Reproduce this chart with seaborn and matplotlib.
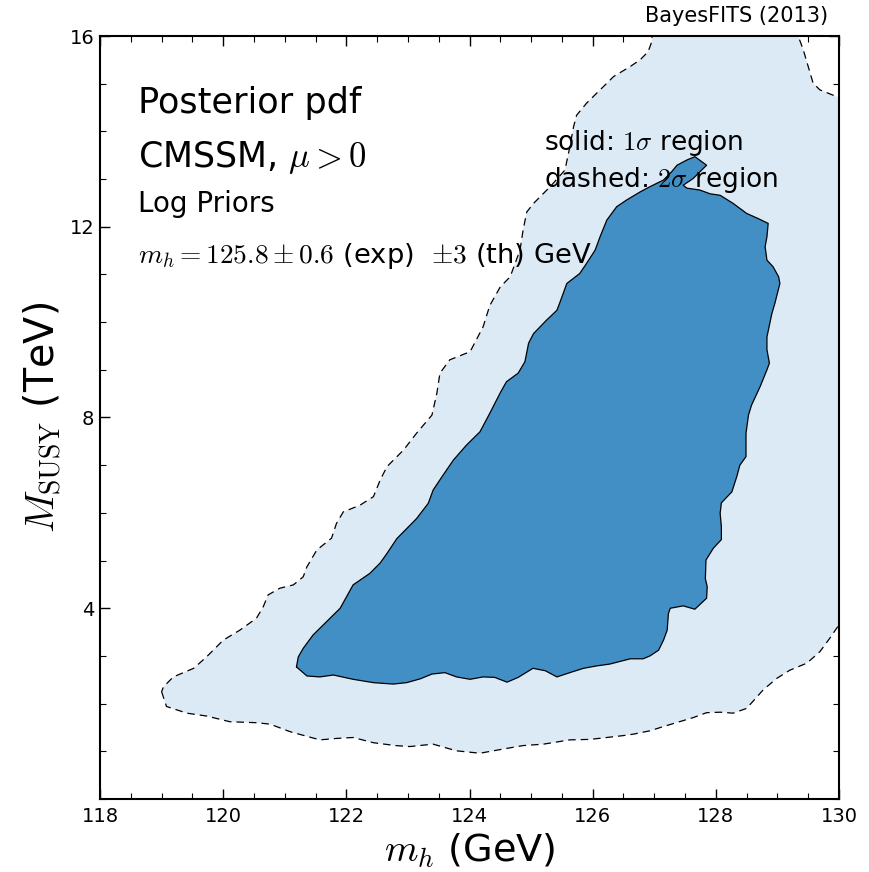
import matplotlib
matplotlib.use("Agg")
import matplotlib.pyplot as plt
import seaborn as sns
from matplotlib.ticker import MultipleLocator

# 2 sigma credible region (dashed outline), m_h in GeV, M_SUSY in TeV
mh_2sig = [119.00, 119.08, 119.41, 119.73, 120.11, 120.54, 120.76, 121.09, 121.57, 121.84,
           122.11, 122.44, 122.80, 123.03, 123.41, 123.79, 124.17, 124.60, 124.87, 125.20,
           125.63, 125.96, 126.50, 126.66, 126.93, 127.15, 127.64, 127.85, 128.07, 128.28,
           128.50, 128.77, 128.99, 129.20, 129.48, 129.69, 129.85, 129.94, 130.30, 130.30,
           129.96, 129.69, 129.58, 129.50, 129.42, 129.34, 129.30, 126.97, 126.96, 126.90,
           126.77, 126.61, 126.34, 126.12, 125.90, 125.74, 125.69, 125.63, 125.55, 125.31,
           125.04, 124.93, 124.87, 124.82, 124.66, 124.50, 124.33, 124.22, 124.01, 123.68,
           123.52, 123.47, 123.39, 123.14, 122.93, 122.66, 122.55, 122.44, 122.22, 121.95,
           121.84, 121.76, 121.52, 121.36, 121.30, 121.14, 120.92, 120.73, 120.65, 120.54,
           120.27, 120.00, 119.73, 119.52, 119.19, 119.03, 119.00]
ms_2sig = [2.25, 1.94, 1.80, 1.74, 1.62, 1.60, 1.57, 1.41, 1.24, 1.27,
           1.29, 1.18, 1.12, 1.10, 1.15, 1.01, 0.96, 1.06, 1.12, 1.15,
           1.24, 1.25, 1.33, 1.36, 1.43, 1.52, 1.71, 1.81, 1.82, 1.80,
           1.90, 2.29, 2.53, 2.70, 2.85, 3.09, 3.37, 3.54, 4.20, 14.60,
           14.73, 14.87, 15.01, 15.36, 15.71, 15.99, 16.40, 16.40, 15.88, 15.67,
           15.50, 15.36, 15.15, 14.87, 14.59, 14.34, 14.10, 13.68, 13.19, 12.84,
           12.49, 12.31, 11.93, 11.51, 10.95, 10.74, 10.35, 9.90, 9.38, 9.21,
           8.93, 8.51, 8.05, 7.67, 7.32, 6.97, 6.69, 6.34, 6.16, 6.02,
           5.78, 5.47, 5.22, 4.87, 4.66, 4.49, 4.42, 4.28, 4.03, 3.79,
           3.54, 3.33, 2.98, 2.74, 2.56, 2.35, 2.25]

# 1 sigma credible region (solid outline)
mh_1sig = [121.19, 121.36, 121.57, 121.79, 122.11, 122.44, 122.76, 122.98, 123.20, 123.39,
           123.60, 123.79, 124.01, 124.22, 124.41, 124.61, 124.79, 125.03, 125.23, 125.42,
           125.63, 125.85, 126.06, 126.28, 126.61, 126.82, 126.93, 127.07, 127.15, 127.21,
           127.23, 127.26, 127.47, 127.66, 127.85, 127.86, 127.83, 127.84, 127.96, 128.09,
           128.09, 128.07, 128.09, 128.26, 128.34, 128.39, 128.49, 128.49, 128.53, 128.58,
           128.72, 128.83, 128.87, 128.83, 128.83, 128.91, 128.96, 129.04, 129.02, 128.93,
           128.83, 128.80, 128.83, 128.85, 128.69, 128.50, 128.28, 128.07, 127.91, 127.74,
           127.53, 127.47, 127.63, 127.85, 127.66, 127.53, 127.37, 127.28, 127.15, 126.93,
           126.77, 126.55, 126.39, 126.23, 126.12, 126.04, 125.90, 125.79, 125.58, 125.47,
           125.42, 125.25, 125.04, 124.96, 124.90, 124.79, 124.60, 124.50, 124.33, 124.17,
           123.95, 123.74, 123.57, 123.41, 123.33, 123.14, 122.82, 122.66, 122.55, 122.38,
           122.11, 121.90, 121.68, 121.46, 121.30, 121.22, 121.19]
ms_1sig = [2.77, 2.58, 2.56, 2.60, 2.51, 2.44, 2.41, 2.44, 2.52, 2.62,
           2.65, 2.56, 2.51, 2.56, 2.55, 2.45, 2.55, 2.74, 2.69, 2.56,
           2.65, 2.74, 2.79, 2.83, 2.94, 2.94, 3.00, 3.12, 3.33, 3.54,
           3.89, 4.00, 4.05, 3.98, 4.21, 4.45, 4.62, 5.01, 5.26, 5.44,
           5.71, 5.99, 6.21, 6.44, 6.76, 7.00, 7.18, 7.67, 8.05, 8.26,
           8.65, 9.00, 9.14, 9.42, 9.69, 10.18, 10.40, 10.81, 10.95, 11.16,
           11.30, 11.58, 11.79, 12.07, 12.17, 12.28, 12.49, 12.66, 12.69, 12.77,
           12.81, 12.87, 13.01, 13.29, 13.47, 13.40, 13.29, 13.15, 12.98, 12.84,
           12.73, 12.56, 12.42, 12.14, 11.79, 11.51, 11.23, 11.02, 10.81, 10.42,
           10.25, 10.04, 9.76, 9.56, 9.17, 8.93, 8.75, 8.52, 8.09, 7.70,
           7.42, 7.11, 6.79, 6.48, 6.20, 5.88, 5.46, 5.15, 4.95, 4.73,
           4.49, 4.00, 3.72, 3.44, 3.16, 2.98, 2.77]

x_ticks = [118, 120, 122, 124, 126, 128, 130]
y_ticks = [4, 8, 12, 16]

sns.set_theme(style="ticks")
plt.rcParams['font.family'] = ['DejaVu Sans']
plt.rcParams['mathtext.fontset'] = 'cm'
plt.rcParams['text.color'] = 'black'
plt.rcParams['axes.labelcolor'] = 'black'

fig = plt.figure(figsize=(8.69, 8.72), dpi=100)
ax = fig.add_axes([100/869, 73/872, 739/869, 763/872])

ax.fill(mh_2sig, ms_2sig, color="#dceaf6", lw=0, zorder=1)
sns.lineplot(x=mh_2sig, y=ms_2sig, sort=False, estimator=None, color="black",
             lw=0.9, dashes=False, linestyle=(0, (6, 4)), ax=ax, zorder=2)
ax.fill(mh_1sig, ms_1sig, color="#418fc5", lw=0, zorder=3)
sns.lineplot(x=mh_1sig, y=ms_1sig, sort=False, estimator=None, color="black",
             lw=0.9, ax=ax, zorder=4)

ax.set_xlim(118, 130)
ax.set_ylim(0, 16)
ax.set_xticks(x_ticks)
ax.set_yticks(y_ticks)
ax.xaxis.set_minor_locator(MultipleLocator(0.5))
ax.yaxis.set_minor_locator(MultipleLocator(1))
ax.tick_params(which="both", direction="in", top=True, right=True, colors="black",
               labelsize=14)
ax.tick_params(which="major", length=7, width=1)
ax.tick_params(which="minor", length=4, width=0.8)
ax.tick_params(axis="x", pad=6)
ax.tick_params(axis="y", pad=4)
for s in ax.spines.values():
    s.set_linewidth(1.5)
    s.set_color("black")
    s.set_zorder(10)

ax.set_xlabel(r"$m_h$ (GeV)", fontsize=27.5, labelpad=4)
ax.set_ylabel(r"$M_{\rm SUSY}$ (TeV)", fontsize=28.5, labelpad=4)

ax.text(0.051, 0.899, "Posterior pdf", transform=ax.transAxes, fontsize=25.3, va="baseline")
ax.text(0.051, 0.828, r"CMSSM, $\mu>0$", transform=ax.transAxes, fontsize=25, va="baseline")
ax.text(0.051, 0.769, "Log Priors", transform=ax.transAxes, fontsize=20, va="baseline")
ax.text(0.051, 0.702, r"$m_h=125.8\pm0.6$ (exp)  $\pm3$ (th) GeV", transform=ax.transAxes,
        fontsize=19.7, va="baseline")
ax.text(0.601, 0.851, r"solid: $1\sigma$ region", transform=ax.transAxes, fontsize=19,
        va="baseline", zorder=6)
ax.text(0.601, 0.802, r"dashed: $2\sigma$ region", transform=ax.transAxes, fontsize=19,
        va="baseline", zorder=6)
ax.text(0.985, 1.018, "BayesFITS (2013)", transform=ax.transAxes, fontsize=15,
        ha="right", va="baseline")

fig.savefig("out.png", dpi=100)
